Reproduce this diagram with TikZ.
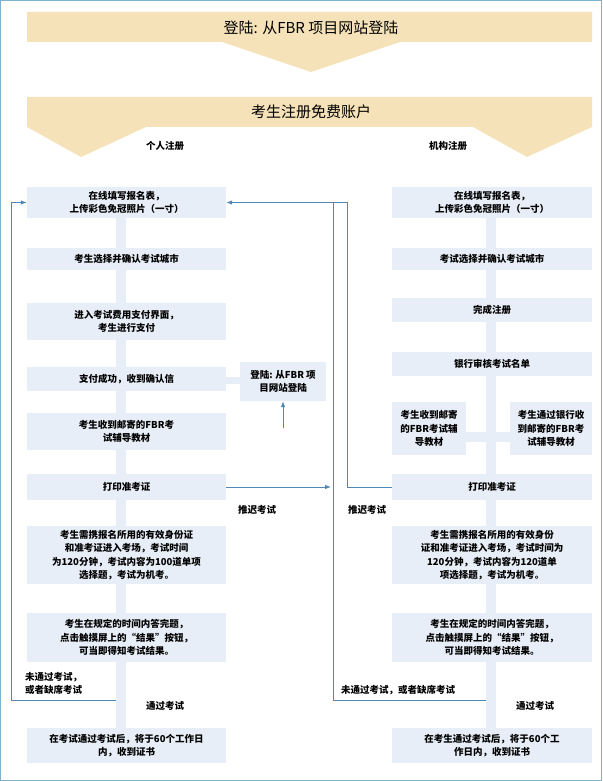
\documentclass[tikz,border=0pt]{standalone}
\usepackage{fontspec}
\setmainfont{Noto Sans CJK SC}
\usetikzlibrary{arrows.meta}
\definecolor{bx}{HTML}{E8EEF7}
\definecolor{ban}{HTML}{F5E2B8}
\definecolor{ln}{HTML}{4F88B8}
\definecolor{frm}{HTML}{7FB0D0}
\begin{document}
\begin{tikzpicture}[x=1pt,y=-1pt,
  box/.style={fill=bx,inner sep=0pt,align=center,font=\fontsize{9.5}{13.5}\selectfont\bfseries},
  lab/.style={inner sep=0pt,align=left,font=\fontsize{9.5}{13.5}\selectfont\bfseries},
  thin/.style={draw=ln,line width=0.8pt},
  arr/.style={thin,-{Latex[length=6pt,width=4.5pt]}}]
\useasboundingbox (0,0) rectangle (602,781);
\draw[frm,line width=1.2pt] (0.6,0.6) rectangle (601.4,780.4);
% banners
\fill[ban] (27,12) -- (592,12) -- (592,42) -- (400,42) -- (311,72) -- (222,42) -- (27,42) -- cycle;
\node[font=\fontsize{15}{17}\selectfont] (t1) at (311,28) {登陆: 从FBR 项目网站登陆};
\fill[ban] (27,97) -- (592,97) -- (592,127) -- (527,157) -- (473,127) -- (146,127) -- (81,157) -- (27,127) -- cycle;
\node[font=\fontsize{15}{17}\selectfont] (t2) at (311,112) {考生注册免费账户};
\node[lab] (p) at (165,146) {个人注册};
\node[lab] (o) at (448,146) {机构注册};
% bars
\fill[bx] (116,187) rectangle (126,763);
\fill[bx] (486,187) rectangle (496,763);
\fill[bx] (226,377) rectangle (240,384);
\fill[bx] (466,432) rectangle (510,442);
% left column
\node[box,minimum width=199pt,minimum height=31pt] (L1) at (126.5,202.5) {在线填写报名表，\\上传彩色免冠照片（一寸）};
\node[box,minimum width=199pt,minimum height=22pt] (L2) at (126.5,259) {考生选择并确认考试城市};
\node[box,minimum width=199pt,minimum height=37pt] (L3) at (126.5,321.5) {进入考试费用支付界面，\\考生进行支付};
\node[box,minimum width=199pt,minimum height=24pt] (L4) at (126.5,379) {支付成功，收到确认信};
\node[box,minimum width=199pt,minimum height=37pt] (L5) at (126.5,431.5) {考生收到邮寄的FBR考\\试辅导教材};
\node[box,minimum width=199pt,minimum height=26pt] (L6) at (126.5,487) {打印准考证};
\node[box,minimum width=199pt,minimum height=58pt] (L7) at (126.5,555) {考生需携报名所用的有效身份证\\和准考证进入考场，考试时间\\为120分钟，考试内容为100道单项\\选择题，考试为机考。};
\node[box,minimum width=199pt,minimum height=49pt] (L8) at (126.5,637.5) {考生在规定的时间内答完题，\\点击触摸屏上的“结果”按钮，\\可当即得知考试结果。};
\node[box,minimum width=199pt,minimum height=35pt] (L9) at (126.5,745.5) {在考试通过考试后，将于60个工作日\\内，收到证书};
\node[box,minimum width=86pt,minimum height=39pt] (S) at (283,381.5) {登陆: 从FBR 项\\目网站登陆};
% right column
\node[box,minimum width=200pt,minimum height=31pt] (R1) at (492,202.5) {在线填写报名表，\\上传彩色免冠照片（一寸）};
\node[box,minimum width=200pt,minimum height=22pt] (R2) at (492,259) {考试选择并确认考试城市};
\node[box,minimum width=200pt,minimum height=24pt] (R3) at (492,310) {完成注册};
\node[box,minimum width=200pt,minimum height=24pt] (R4) at (492,364) {银行审核考试名单};
\node[box,minimum width=74pt,minimum height=53pt] (R5a) at (429,428.5) {考生收到邮寄\\的FBR考试辅\\导教材};
\node[box,minimum width=82pt,minimum height=53pt] (R5b) at (551,428.5) {考生通过银行收\\到邮寄的FBR考\\试辅导教材};
\node[box,minimum width=200pt,minimum height=26pt] (R6) at (492,487) {打印准考证};
\node[box,minimum width=200pt,minimum height=58pt] (R7) at (492,555) {考生需携报名所用的有效身份\\证和准考证进入考场，考试时间为\\120分钟，考试内容为120道单\\项选择题，考试为机考。};
\node[box,minimum width=200pt,minimum height=49pt] (R8) at (492,637.5) {考生在规定的时间内答完题，\\点击触摸屏上的“结果”按钮，\\可当即得知考试结果。};
\node[box,minimum width=200pt,minimum height=35pt] (R9) at (492,745.5) {在考生通过考试后，将于60个工\\作日内，收到证书};
% labels
\node[lab] (d1) at (257,510) {推迟考试};
\node[lab] (d2) at (367,510) {推迟考试};
\node[lab,anchor=north west] (f1) at (25,672) {未通过考试，\\或者缺席考试};
\node[lab] (g1) at (165,706) {通过考试};
\node[lab,anchor=west] (f2) at (341,690) {未通过考试，或者缺席考试};
\node[lab] (g2) at (535,706) {通过考试};
% connectors
\coordinate (a1) at (116,700);
\coordinate (a2) at (486,700);
\coordinate (up) at (283,428);
\coordinate (pr) at (331,487);
\draw[arr] (a1) -- (11,700) -- (11,202.5) -- (L1.west);
\draw[arr] (a2) -- (333,700) -- (333,202.5) -- (L1.east);
\draw[thin] (R6.west) -- (347,487) -- (347,202.5) -- (333,202.5);
\draw[arr] (L6.east) -- (pr);
\draw[arr] (up) -- (S.south);
\end{tikzpicture}
\end{document}
